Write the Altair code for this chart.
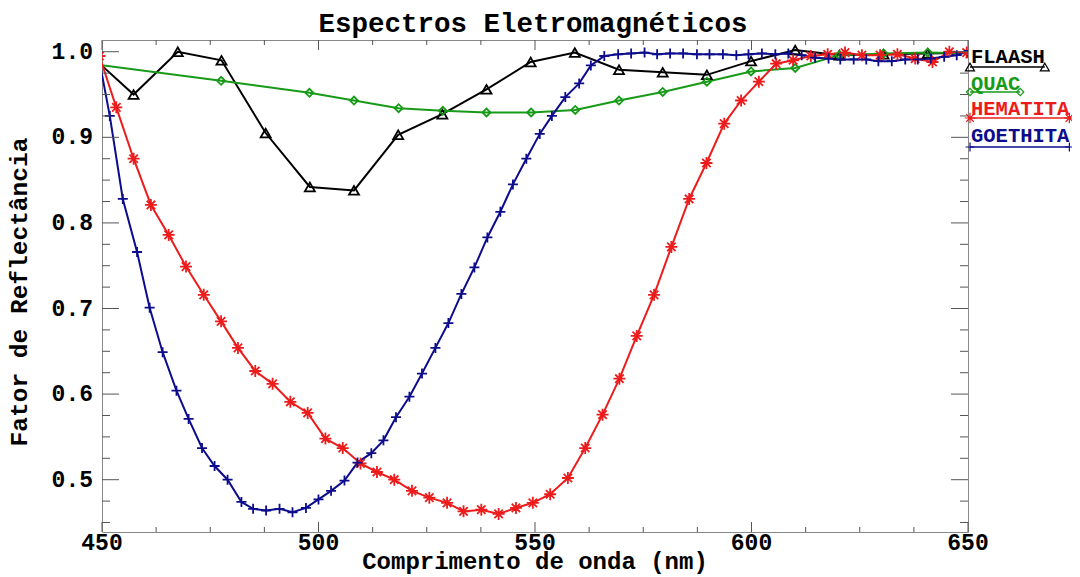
import altair as alt
import pandas as pd

FONT = "Liberation Mono"

# ---------------- data ----------------
flaash_wl = [447.1, 457.3, 467.5, 477.6, 487.8, 498.0, 508.2, 518.4, 528.6, 538.8,
             549.0, 559.2, 569.4, 579.5, 589.7, 599.9, 610.1, 620.3, 630.5, 640.7, 650.9]
flaash_rf = [0.997, 0.950, 1.000, 0.990, 0.905, 0.842, 0.838, 0.903, 0.927, 0.956,
             0.988, 0.999, 0.979, 0.976, 0.973, 0.989, 1.002, 0.996, 0.997, 0.998, 0.999]

quac_wl = [447.1, 477.5, 497.9, 508.2, 518.5, 528.7, 538.8, 549.1, 559.3, 569.4,
           579.5, 589.7, 599.9, 610.1, 620.3, 630.5, 640.7, 650.9]
quac_rf = [0.986, 0.966, 0.952, 0.943, 0.934, 0.931, 0.929, 0.929, 0.932, 0.943,
           0.953, 0.965, 0.977, 0.981, 0.996, 0.998, 0.999, 0.998]

hema_wl = [449.4, 453.3, 457.3, 461.3, 465.4, 469.4, 473.5, 477.5, 481.4, 485.4,
           489.4, 493.5, 497.5, 501.6, 505.6, 509.7, 513.5, 517.5, 521.6, 525.6,
           529.7, 533.5, 537.6, 541.6, 545.6, 549.5, 553.5, 557.6, 561.6, 565.6,
           569.5, 573.5, 577.5, 581.5, 585.6, 589.6, 593.7, 597.6, 601.7, 605.7,
           609.6, 613.7, 617.6, 621.6, 625.5, 629.7, 633.7, 637.8, 641.8, 645.7, 649.7]
hema_rf = [0.995, 0.935, 0.875, 0.821, 0.786, 0.749, 0.716, 0.685, 0.654, 0.627,
           0.612, 0.591, 0.578, 0.548, 0.537, 0.519, 0.509, 0.500, 0.487, 0.479,
           0.473, 0.463, 0.465, 0.460, 0.467, 0.473, 0.483, 0.502, 0.537, 0.576,
           0.618, 0.668, 0.716, 0.772, 0.828, 0.870, 0.916, 0.943, 0.965, 0.986,
           0.990, 0.995, 0.997, 0.999, 0.996, 0.996, 0.997, 0.992, 0.988, 1.000, 0.999]

goe_wl = [448.7, 451.8, 454.8, 458.1, 461.0, 464.0, 467.2, 470.0, 473.1, 476.0,
          479.0, 482.2, 484.9, 487.9, 491.0, 494.0, 497.1, 500.0, 502.9, 506.0,
          509.0, 512.2, 515.0, 517.9, 521.0, 523.9, 527.0, 530.0, 533.0, 536.0,
          539.0, 542.0, 544.9, 548.0, 551.1, 553.9, 557.0, 560.2, 562.9, 566.0,
          569.2, 572.2, 575.3, 578.2, 581.2, 584.2, 587.4, 590.3, 593.4, 596.5,
          599.3, 602.4, 605.5, 608.5, 611.6, 614.7, 617.8, 620.5, 623.6, 626.5,
          629.3, 632.4, 635.5, 638.4, 641.4, 644.5, 647.4, 650.2]
goe_rf = [1.008, 0.925, 0.828, 0.766, 0.701, 0.649, 0.604, 0.571, 0.537, 0.516,
          0.500, 0.474, 0.466, 0.464, 0.466, 0.462, 0.467, 0.477, 0.487, 0.499,
          0.520, 0.531, 0.546, 0.573, 0.597, 0.624, 0.654, 0.683, 0.717, 0.748,
          0.783, 0.813, 0.845, 0.875, 0.904, 0.925, 0.947, 0.963, 0.984, 0.995,
          0.997, 0.998, 0.999, 0.997, 0.998, 0.998, 0.997, 0.997, 0.997, 0.996,
          0.997, 0.998, 0.997, 0.998, 0.996, 0.993, 0.992, 0.991, 0.991, 0.991,
          0.989, 0.989, 0.991, 0.991, 0.992, 0.994, 0.996, 1.001]

names = ["FLAASH", "QUAC", "HEMATITA", "GOETHITA"]
colors = ["#000000", "#179a17", "#ec1c1c", "#0c0c8c"]

x_major = [450, 500, 550, 600, 650]
x_minor = [462.5, 475, 487.5, 512.5, 525, 537.5, 562.5, 575, 587.5, 612.5, 625, 637.5]
y_major = [0.5, 0.6, 0.7, 0.8, 0.9, 1.0]
y_minor = [0.45, 0.475, 0.525, 0.55, 0.575, 0.625, 0.65, 0.675, 0.725, 0.75,
           0.775, 0.825, 0.85, 0.875, 0.925, 0.95, 0.975]

title_txt = "Espectros Eletromagnéticos"
x_title = "Comprimento de onda (nm)"
y_title = "Fator de Reflectância"

# ---------------- build table ----------------
rows = []
for nm, wl, rf in zip(names, [flaash_wl, quac_wl, hema_wl, goe_wl],
                      [flaash_rf, quac_rf, hema_rf, goe_rf]):
    for w, r in zip(wl, rf):
        rows.append({"serie": nm, "wl": w, "rf": r})
df = pd.DataFrame(rows)

STAR = "M0,-1L0,1M-1,0L1,0M-0.7,-0.7L0.7,0.7M-0.7,0.7L0.7,-0.7"
PLUS = "M-1,0L1,0M0,-1L0,1"
shapes = ["triangle-up", "diamond", STAR, PLUS]
sizes = [100, 64, 144, 100]

W, H = 866, 492
TICK = "#555555"

xs = alt.Scale(domain=[450, 650], nice=False, zero=False)
ys = alt.Scale(domain=[0.4389, 1.0137], nice=False, zero=False)

color = alt.Color("serie:N", scale=alt.Scale(domain=names, range=colors), legend=None)

lines = alt.Chart(df).mark_line(strokeWidth=2, clip=True).encode(
    x=alt.X("wl:Q", scale=xs, axis=None),
    y=alt.Y("rf:Q", scale=ys, axis=None),
    color=color,
)

points = alt.Chart(df).mark_point(filled=False, strokeWidth=1.8, opacity=1, clip=True).encode(
    x=alt.X("wl:Q", scale=xs, axis=None),
    y=alt.Y("rf:Q", scale=ys, axis=None),
    color=color,
    shape=alt.Shape("serie:N", scale=alt.Scale(domain=names, range=shapes), legend=None),
    size=alt.Size("serie:N", scale=alt.Scale(type="ordinal", domain=names, range=sizes), legend=None),
)

layers = [lines, points]

# ---------------- inward ticks on all four sides ----------------
def xticks(vals, length):
    d = pd.DataFrame({"t": vals})
    bot = alt.Chart(d).mark_rule(color=TICK, strokeWidth=1).encode(
        x=alt.X("t:Q", scale=xs, axis=None), y=alt.value(H), y2=alt.value(H - length))
    top = alt.Chart(d).mark_rule(color=TICK, strokeWidth=1).encode(
        x=alt.X("t:Q", scale=xs, axis=None), y=alt.value(0), y2=alt.value(length))
    return [bot, top]

def yticks(vals, length):
    d = pd.DataFrame({"t": vals})
    left = alt.Chart(d).mark_rule(color=TICK, strokeWidth=1).encode(
        y=alt.Y("t:Q", scale=ys, axis=None), x=alt.value(0), x2=alt.value(length))
    right = alt.Chart(d).mark_rule(color=TICK, strokeWidth=1).encode(
        y=alt.Y("t:Q", scale=ys, axis=None), x=alt.value(W), x2=alt.value(W - length))
    return [left, right]

layers += xticks(x_major, 10) + xticks(x_minor, 5)
layers += yticks(y_major, 17) + yticks(y_minor, 8)

# ---------------- tick labels (through the scales) ----------------
layers.append(alt.Chart(pd.DataFrame({"t": x_major})).mark_text(
    font=FONT, fontSize=23, fontWeight="bold", color="#000", align="center", baseline="top").encode(
    x=alt.X("t:Q", scale=xs, axis=None), y=alt.value(H), text=alt.Text("t:Q", format="d")))
layers.append(alt.Chart(pd.DataFrame({"t": y_major})).mark_text(
    font=FONT, fontSize=23, fontWeight="bold", color="#000", align="right", baseline="middle").encode(
    y=alt.Y("t:Q", scale=ys, axis=None), x=alt.value(-9), text=alt.Text("t:Q", format=".1f")))

# ---------------- titles ----------------
one = pd.DataFrame({"k": [0]})
layers.append(alt.Chart(one).mark_text(text=title_txt, font=FONT, fontSize=27.5, fontWeight="bold",
                                       color="#000", align="center", baseline="alphabetic").encode(
    x=alt.value(W / 2 - 2), y=alt.value(-8)))
layers.append(alt.Chart(one).mark_text(text=x_title, font=FONT, fontSize=24, fontWeight="bold",
                                       color="#000", align="center", baseline="alphabetic").encode(
    x=alt.value(W / 2), y=alt.value(H + 37)))
layers.append(alt.Chart(one).mark_text(text=y_title, font=FONT, fontSize=24.5, fontWeight="bold",
                                       color="#000", align="center", baseline="middle", angle=270).encode(
    x=alt.value(-82), y=alt.value(252)))

# ---------------- legend (label with a symbol line beneath) ----------------
LFS = 20.5
CHW = LFS * 0.6
leg_text_y = [23, 50, 75, 102]
leg_line_y = [27, 52, 78, 107]
for i, nm in enumerate(names):
    c = colors[i]
    x0 = 868
    x1 = 869 + len(nm) * CHW
    layers.append(alt.Chart(one).mark_text(text=nm, font=FONT, fontSize=LFS, fontWeight="bold",
                                           color=c, align="left", baseline="alphabetic").encode(
        x=alt.value(869), y=alt.value(leg_text_y[i])))
    layers.append(alt.Chart(one).mark_rule(color=c, strokeWidth=1.5).encode(
        x=alt.value(x0), x2=alt.value(x1), y=alt.value(leg_line_y[i])))
    for xp in (x0, x1):
        layers.append(alt.Chart(one).mark_point(shape=shapes[i], size=sizes[i] * 0.8, filled=False,
                                                color=c, strokeWidth=1.2, opacity=1).encode(
            x=alt.value(xp), y=alt.value(leg_line_y[i])))

chart = alt.layer(*layers).properties(
    width=W, height=H,
    autosize=alt.AutoSizeParams(type="none"),
    padding={"left": 94, "top": 32, "right": 104, "bottom": 45},
    background="white",
).configure_view(stroke="#888888", strokeWidth=1)

chart.save("out.html", embed_options={"renderer": "svg", "actions": False})
